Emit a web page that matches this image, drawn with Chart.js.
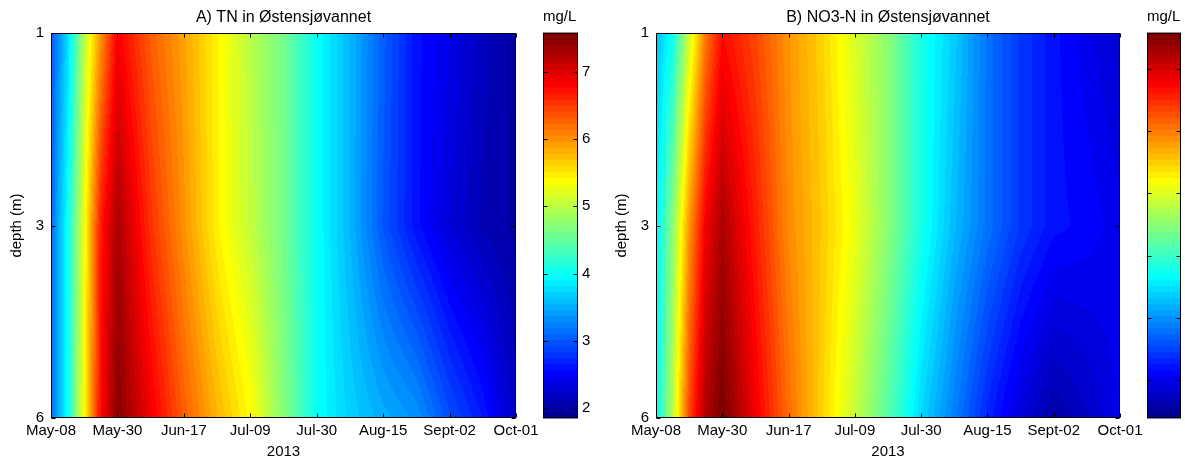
<!DOCTYPE html>
<html><head><meta charset="utf-8">
<script src="https://cdn.jsdelivr.net/npm/chart.js@4/dist/chart.umd.min.js"></script>
<style>
html,body{margin:0;padding:0;background:#fff;width:1185px;height:462px;overflow:hidden;position:relative}
canvas{position:absolute;top:0}
</style></head><body>
<canvas id="mainA" width="567" height="462" style="left:0"></canvas>
<canvas id="barA" width="81" height="462" style="left:520px"></canvas>
<canvas id="mainB" width="566" height="462" style="left:605px"></canvas>
<canvas id="barB" width="80" height="462" style="left:1124px"></canvas>
<script>
// ---- data ----
const dateLabels = ['May-08','May-30','Jun-17','Jul-09','Jul-30','Aug-15','Sept-02','Oct-01'];
const depthLabels = ['1', '3', '6'];
const samplePos = [0,0.25,0.5,0.75,1,1.5,2,2.5,3,3.5,4,4.5,5,5.5,6,6.5,7];
const tnAt1m = [3.0,3.75,5.0,6.0,6.85,6.3,5.9,5.45,5.0,4.6,4.0,3.55,3.05,2.6,2.4,2.15,2.0];
const tnAt3m = [3.1,4.0,5.3,6.7,7.3,6.55,6.0,5.45,5.05,4.6,4.0,3.55,3.0,2.6,2.3,2.1,2.0];
const tnAt6m = [3.1,4.0,5.4,6.8,7.5,6.9,6.3,5.8,5.4,4.7,4.0,3.7,3.5,3.35,2.95,2.65,2.15];
const no3At1m = [2.25,2.74,3.92,5.03,5.71,5.34,4.85,4.48,3.98,3.5,2.8,2.37,1.81,1.44,1.2,1.01,0.82];
const no3At3m = [2.56,3.5,4.85,5.84,6.27,5.59,4.91,4.54,4.1,3.5,2.8,2.25,1.81,1.44,1.2,1.13,1.01];
const no3At6m = [2.62,3.8,5.34,6.27,6.58,5.84,5.1,4.48,3.86,3.18,2.43,1.88,1.32,0.89,0.58,0.76,1.01];
const tnRange = [1.85, 7.58];
const tnTicks = [2,3,4,5,6,7];
const no3Range = [0.39, 6.58];
const no3Ticks = [1,2,3,4,5,6];

const FONT = '"Liberation Sans", Arial, Helvetica, sans-serif';
const NLEV = 64;

function jetMap(n){
  const m = Math.ceil(n/4), u = [];
  for (let i=1;i<=m;i++) u.push(i/m);
  for (let i=1;i<m;i++) u.push(1);
  for (let i=m;i>=1;i--) u.push(i/m);
  const J = Array.from({length:n}, () => [0,0,0]);
  const g0 = Math.ceil(m/2) - (n%4===1?1:0);
  for (let i=0;i<u.length;i++){
    const g = g0+i+1, r = g+m, b = g-m;
    if (g>=1&&g<=n) J[g-1][1]=u[i];
    if (r>=1&&r<=n) J[r-1][0]=u[i];
    if (b>=1&&b<=n) J[b-1][2]=u[i];
  }
  return J.map(c => c.map(v => Math.round(v*255)));
}
const JET = jetMap(NLEV);
function levelIndex(v, range){
  let k = Math.floor((v-range[0])/(range[1]-range[0])*NLEV);
  return Math.max(0, Math.min(NLEV-1, k));
}
function seg(arr, v){
  if (v <= arr[0]) return [0,0];
  for (let i=0;i<arr.length-1;i++){
    if (v <= arr[i+1]) return [i,(v-arr[i])/(arr[i+1]-arr[i])];
  }
  return [arr.length-2,1];
}

const fieldPlugin = {
  id:'field',
  beforeDatasetsDraw(chart){
    const ds = chart.data.datasets[0];
    const f = ds.field, range = ds.range;
    const a = chart.chartArea, sx = chart.scales.x, sy = chart.scales.y;
    const L = Math.round(a.left), T = Math.round(a.top);
    const W = Math.round(a.right)-L, H = Math.round(a.bottom)-T;
    const off = document.createElement('canvas'); off.width=W; off.height=H;
    const octx = off.getContext('2d'); const img = octx.createImageData(W,H);
    const cols = [], rows = [];
    for (let px=0; px<W; px++) cols.push(seg(f.xs, sx.getValueForPixel(L+px+0.5)));
    for (let py=0; py<H; py++) rows.push(seg(f.ys, sy.getValueForPixel(T+py+0.5)));
    for (let py=0; py<H; py++){
      const [j,fy] = rows[py]; const r0 = f.rows[j], r1 = f.rows[j+1];
      for (let px=0; px<W; px++){
        const [i,fx] = cols[px];
        const top = r0[i]*(1-fx)+r0[i+1]*fx, bot = r1[i]*(1-fx)+r1[i+1]*fx;
        const v = top*(1-fy)+bot*fy;
        const c = JET[levelIndex(v, range)];
        const o = (py*W+px)*4;
        img.data[o]=c[0]; img.data[o+1]=c[1]; img.data[o+2]=c[2]; img.data[o+3]=255;
      }
    }
    octx.putImageData(img,0,0);
    chart.ctx.drawImage(off, L, T);
  }
};

const colorbarPlugin = {
  id:'cbar',
  beforeDatasetsDraw(chart){
    const ds = chart.data.datasets[0]; const range = ds.range;
    const a = chart.chartArea, sy = chart.scales.y, ctx = chart.ctx;
    for (let k=0;k<NLEV;k++){
      const v0 = range[0] + k*(range[1]-range[0])/NLEV, v1 = range[0] + (k+1)*(range[1]-range[0])/NLEV;
      const y0 = sy.getPixelForValue(v0), y1 = sy.getPixelForValue(v1);
      const c = JET[k];
      ctx.fillStyle = `rgb(${c[0]},${c[1]},${c[2]})`;
      ctx.fillRect(a.left, Math.min(y0,y1)-0.5, a.right-a.left, Math.abs(y1-y0)+1);
    }
  }
};

const framePlugin = {
  id:'frame',
  afterDatasetsDraw(chart){
    const a = chart.chartArea, ctx = chart.ctx;
    const L = Math.round(a.left)+0.5, R = Math.round(a.right)-0.5, T = Math.round(a.top)+0.5, B = Math.round(a.bottom)-0.5;
    ctx.save(); ctx.strokeStyle='#000'; ctx.lineWidth=1; ctx.beginPath();
    const tl = 4;
    const sx = chart.scales.x, sy = chart.scales.y;
    if (sx.options.display !== false){
      sx.ticks.forEach(t => { const p = Math.round(sx.getPixelForValue(t.value))+0.5;
        ctx.moveTo(p,B); ctx.lineTo(p,B-tl); ctx.moveTo(p,T); ctx.lineTo(p,T+tl); });
    }
    sy.ticks.forEach(t => { const p = Math.round(sy.getPixelForValue(t.value))+0.5;
      ctx.moveTo(L,p); ctx.lineTo(L+tl,p); ctx.moveTo(R,p); ctx.lineTo(R-tl,p); });
    ctx.stroke();
    ctx.strokeRect(L, T, R-L, B-T);
    ctx.restore();
  }
};

function makeMain(id, title, rowsData, range){
  const pts = [];
  depthLabels.forEach((d,j) => samplePos.forEach((x,i) => pts.push({x:x, y:j, v:rowsData[j][i]})));
  return new Chart(document.getElementById(id), {
    type:'scatter',
    data:{datasets:[{data:pts, pointRadius:0, field:{xs:samplePos, ys:depthLabels.map((_,j)=>j), rows:rowsData}, range:range}]},
    options:{
      responsive:false, animation:false, events:[],
      layout:{padding:0},
      plugins:{legend:{display:false}, tooltip:{enabled:false},
        title:{display:true, text:title, color:'#000', font:{family:FONT,size:16,weight:'normal',lineHeight:1.2}, padding:{top:8,bottom:5.8}}},
      scales:{
        x:{type:'linear', min:0, max:dateLabels.length-1,
          grid:{display:false, drawTicks:false}, border:{display:false},
          afterBuildTicks:s=>{ s.ticks = dateLabels.map((_,i)=>({value:i})); },
          afterFit:s=>{ s.height = 44; },
          ticks:{callback:v=>dateLabels[v], color:'#000', font:{family:FONT,size:15}, padding:4, maxRotation:0, autoSkip:false},
          title:{display:true, text:'2013', color:'#000', font:{family:FONT,size:15,lineHeight:1.2}, padding:{top:0,bottom:1}}},
        y:{type:'linear', min:0, max:depthLabels.length-1, reverse:true,
          grid:{display:false, drawTicks:false}, border:{display:false},
          afterBuildTicks:s=>{ s.ticks = depthLabels.map((_,j)=>({value:j})); },
          afterFit:s=>{ s.width = 51; },
          ticks:{callback:v=>depthLabels[v], color:'#000', font:{family:FONT,size:15}, padding:7},
          title:{display:true, text:'depth (m)', color:'#000', font:{family:FONT,size:15,lineHeight:1.2}, padding:{top:8,bottom:0}}},
        yRight:{type:'linear', position:'right', min:0, max:1,
          grid:{display:false, drawTicks:false}, border:{display:false},
          ticks:{display:false},
          afterFit:s=>{ s.width = 51; }}
      }
    },
    plugins:[fieldPlugin, framePlugin]
  });
}

function makeBar(id, range, ticks, showLabels){
  return new Chart(document.getElementById(id), {
    type:'scatter',
    data:{datasets:[{data:ticks.map(v=>({x:0,y:v})), pointRadius:0, range:range}]},
    options:{
      responsive:false, animation:false, events:[],
      layout:{padding:{left:23,right:0,top:0,bottom:44}},
      plugins:{legend:{display:false}, tooltip:{enabled:false},
        title:{display:true, align:'start', text:'mg/L', color:'#000', font:{family:FONT,size:15,weight:'normal',lineHeight:1.2}, padding:{top:8,bottom:7}}},
      scales:{
        x:{display:false, min:0, max:1},
        y:{type:'linear', position:'right', min:range[0], max:range[1],
          grid:{display:false, drawTicks:false}, border:{display:false},
          afterBuildTicks:s=>{ s.ticks = ticks.map(v=>({value:v})); },
          afterFit:s=>{ s.width = 23; },
          ticks:{color: showLabels ? '#000' : 'rgba(0,0,0,0)', font:{family:FONT,size:15}, padding:4}}
      }
    },
    plugins:[colorbarPlugin, framePlugin]
  });
}

makeMain('mainA', 'A) TN in Østensjøvannet', [tnAt1m, tnAt3m, tnAt6m], tnRange);
makeBar('barA', tnRange, tnTicks, true);
makeMain('mainB', 'B) NO3-N in Østensjøvannet', [no3At1m, no3At3m, no3At6m], no3Range);
makeBar('barB', no3Range, no3Ticks, false);
</script>
</body></html>
